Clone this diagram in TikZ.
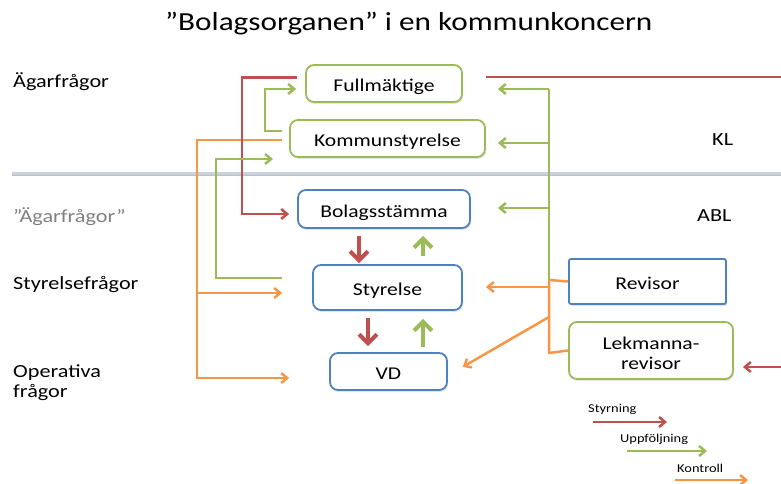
\documentclass[tikz,border=0pt]{standalone}
\usepackage{fontspec}
\setmainfont{Carlito}[FakeStretch=1.2]
\usetikzlibrary{arrows.meta,shadows}
\definecolor{cred}{HTML}{C0504D}
\definecolor{cgreen}{HTML}{9BBB59}
\definecolor{corange}{HTML}{F79646}
\definecolor{cblue}{HTML}{4F81BD}
\definecolor{csep}{HTML}{C9D1DD}
\definecolor{cgraytext}{HTML}{808080}
\tikzset{
  box/.style={draw, line width=1.8pt, rounded corners=8pt, fill=white,
    minimum height=37pt, inner sep=0pt, align=center,
    text height=16.6pt, text depth=0pt,
    font=\fontsize{18}{19.5}\selectfont,
    drop shadow={opacity=0.2, shadow xshift=1pt, shadow yshift=-2pt}},
  gbox/.style={box, draw=cgreen},
  bbox/.style={box, draw=cblue},
  conn/.style={line width=2.5pt},
  tip/.style={-{Straight Barb[length=6pt,width=10pt]}},
  styr/.style={conn, draw=cred},
  upp/.style={conn, draw=cgreen},
  kon/.style={conn, draw=corange},
  bigarrow/.style={line width=4pt, -{Straight Barb[length=9pt,width=18pt]}},
  lbl/.style={anchor=base west, inner sep=0pt, font=\fontsize{18.5}{20}\selectfont},
  leg/.style={anchor=base west, inner sep=0pt, font=\fontsize{12}{13}\selectfont},
}
\begin{document}
\begin{tikzpicture}[x=1pt, y=-1pt]
\useasboundingbox (0,0) rectangle (781,484);

% separator
\coordinate (sepL) at (12,173);
\coordinate (sepR) at (781,173);
\draw[black!25, line width=3pt] ([yshift=-1.5pt]sepL) -- ([yshift=-1.5pt]sepR);
\draw[csep, line width=3pt] (sepL) -- (sepR);

% title
\node[anchor=base west, inner sep=0pt, font=\fontsize{26}{30}\selectfont] (title) at (165,31) {”Bolagsorganen” i en kommunkoncern};

% left / right labels
\node[lbl] (l1) at (13,88) {Ägarfrågor};
\node[lbl, text=cgraytext] (l2) at (13,222) {”Ägarfrågor”};
\node[lbl] (l3) at (13,289) {Styrelsefrågor};
\node[lbl, align=left] (l4) at (13,397) {Operativa\\frågor};
\node[lbl] (kl) at (712,146) {KL};
\node[lbl] (abl) at (697,221) {ABL};

% boxes
\node[gbox, minimum width=156pt] (full) at (384,83.5) {Fullmäktige};
\node[gbox, minimum width=195pt] (ks) at (387.5,138.5) {Kommunstyrelse};
\node[bbox, minimum width=172pt, minimum height=38pt] (bs) at (384,209) {Bolagsstämma};
\node[bbox, minimum width=149pt, minimum height=45pt] (sty) at (387.5,287.5) {Styrelse};
\node[bbox, minimum width=117pt] (vd) at (388.5,371.5) {VD};
\node[bbox, minimum width=157pt, minimum height=45pt, rounded corners=2pt] (rev) at (647.5,281.5) {Revisor};
\node[gbox, minimum width=164pt, minimum height=57pt, text height=37pt] (lek) at (651,350.5) {Lekmanna-\\revisor};

% named points
\coordinate (redR) at (781,77);
\coordinate (redIn) at (781,367);
\coordinate (g2end) at (273,159);
\coordinate (gt) at (549,89);
\coordinate (gm) at (549,143);
\coordinate (gl) at (549,208);
\coordinate (ot) at (549,280);
\coordinate (obot) at (549,353);
\coordinate (oa1) at (549,287);
\coordinate (oa2) at (549,317);
\coordinate (ob) at (198,293);

% orange (Kontroll)
\draw[kon, tip, shorten <=7pt, shorten >=40pt] ([yshift=-1.5pt]ks.west) -- ++(-92,0) |- ([yshift=-6.5pt]vd.west);
\draw[kon, tip, shorten >=30pt] (ob) -- ([yshift=-5.5pt]sty.west);
\draw[kon, line join=round] (rev.west) -- (ot) -- (obot) -- (lek.west);
\draw[kon, tip, shorten >=23pt] (oa1) -- (oa1 -| sty.east);
\draw[kon, tip, shorten >=17pt] (oa2) -- ([yshift=-4pt]vd.east);

% red (Styrning)
\draw[styr, tip, shorten <=8pt, shorten >=8pt] ([yshift=6pt]full.west) -- ++(-63,0) |- ([yshift=-5pt]bs.west);
\draw[styr, shorten <=23pt] ([yshift=6.5pt]full.east) -- (redR);
\draw[styr, tip, shorten >=9pt] (redIn) -- (redIn -| lek.east);
\draw[cred, bigarrow, shorten <=7pt, shorten >=1pt] ([xshift=-25pt]bs.south) -- ([xshift=-25pt]bs.south |- sty.north);
\draw[cred, bigarrow, shorten <=7pt, shorten >=6pt] ([xshift=-19.5pt]sty.south) -- ([xshift=-19.5pt]sty.south |- vd.north);

% green (Uppföljning)
\draw[upp, tip, shorten <=7pt, shorten >=9pt] ([yshift=7.5pt]ks.west) -- ++(-24,0) |- ([yshift=-5.5pt]full.west);
\draw[upp, tip, shorten <=30pt] ([yshift=9.5pt]sty.west) -- ++(-96,0) |- (g2end);
\draw[upp] (ot) -- (gt);
\draw[upp, tip, shorten >=35pt] (gt) -- (gt -| full.east);
\draw[upp, tip, shorten >=12pt] (gm) -- (gm -| ks.east);
\draw[upp, tip, shorten >=27pt] (gl) -- (gl -| bs.east);
\draw[cgreen, bigarrow, shorten <=8pt, shorten >=7pt] ([xshift=35.5pt]sty.north) -- ([xshift=35.5pt]sty.north |- bs.south);
\draw[cgreen, bigarrow, shorten <=5pt, shorten >=8pt] ([xshift=34.5pt]vd.north) -- ([xshift=34.5pt]vd.north |- sty.south);

% legend
\node[leg] (lg1) at (588,412) {Styrning};
\node[leg] (lg2) at (620,442) {Uppföljning};
\node[leg] (lg3) at (677,472) {Kontroll};
\coordinate (ls1) at (593,422); \coordinate (le1) at (667,422);
\coordinate (ls2) at (627,451); \coordinate (le2) at (707,451);
\coordinate (ls3) at (675,480); \coordinate (le3) at (748,480);
\draw[styr, tip] (ls1) -- (le1);
\draw[upp, tip] (ls2) -- (le2);
\draw[kon, tip] (ls3) -- (le3);
\end{tikzpicture}
\end{document}
